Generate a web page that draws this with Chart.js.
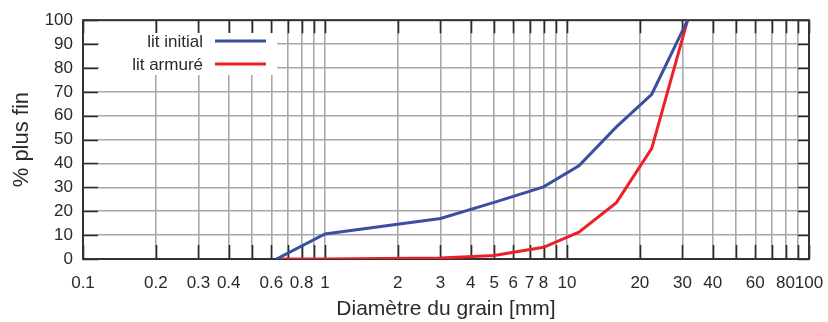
<!DOCTYPE html>
<html>
<head>
<meta charset="utf-8">
<script src="https://cdn.jsdelivr.net/npm/chart.js@4"></script>
<style>
  html, body { margin: 0; padding: 0; background: #fff; }
  #wrap { width: 828px; height: 322px; }
</style>
</head>
<body>
<div id="wrap"><canvas id="chart" width="828" height="322"></canvas></div>
<script>
// grain size curves (mm, % passing)
const sizesInitial = [0.63, 1, 3, 5, 8, 11.2, 16, 22.4, 31.5];
const passInitial  = [0, 10.5, 17, 23.7, 30.2, 39, 55.3, 69, 100];

const sizesArmored = [0.63, 1, 3, 5, 8, 11.2, 16, 22.4, 31.5];
const passArmored  = [0, 0, 0.4, 1.5, 4.9, 11.2, 23.6, 46.3, 100];

// log grid lines, and the ones that get a label
const xGrid = [0.1, 0.2, 0.3, 0.4, 0.5, 0.6, 0.7, 0.8, 0.9,
               1, 2, 3, 4, 5, 6, 7, 8, 9,
               10, 20, 30, 40, 50, 60, 70, 80, 90, 100];
const xLabels = [0.1, 0.2, 0.3, 0.4, 0.6, 0.8, 1, 2, 3, 4, 5, 6, 7, 8, 10, 20, 30, 40, 60, 80, 100];

const legendNames = ['lit initial', 'lit armuré'];
const colors = ['#3a4fa0', '#ee1f26'];

const FONT = "'Liberation Sans', Arial, sans-serif";
const TEXT = '#2a2a2a';

function toPoints(xs, ys) {
    return xs.map((x, i) => ({ x: x, y: ys[i] }));
}

// frame + inward tick marks (gnuplot look)
const framePlugin = {
    id: 'frame',
    beforeDatasetsDraw(chart) {
        const { ctx, chartArea: a, scales } = chart;
        ctx.save();
        ctx.strokeStyle = '#2a2a2a';
        ctx.lineWidth = 1.6;
        ctx.beginPath();
        xGrid.forEach(v => {
            const px = Math.round(scales.x.getPixelForValue(v)) + 0.5;
            ctx.moveTo(px, a.bottom); ctx.lineTo(px, a.bottom - 14);
            ctx.moveTo(px, a.top); ctx.lineTo(px, a.top + 13);
        });
        for (let v = 0; v <= 100; v += 10) {
            const py = Math.round(scales.y.getPixelForValue(v)) + 0.5;
            ctx.moveTo(a.left, py); ctx.lineTo(a.left + 15, py);
            ctx.moveTo(a.right, py); ctx.lineTo(a.right - 11, py);
        }
        ctx.stroke();
        ctx.strokeStyle = '#333';
        ctx.lineWidth = 2;
        ctx.strokeRect(a.left, a.top, a.right - a.left, a.bottom - a.top);
        ctx.restore();
    }
};

// legend: text on the left, line sample on the right, white box behind
const legendPlugin = {
    id: 'gpLegend',
    afterDraw(chart) {
        const { ctx } = chart;
        ctx.save();
        ctx.fillStyle = '#fff';
        ctx.fillRect(99, 33, 178, 42);
        ctx.font = '17px ' + FONT;
        ctx.textAlign = 'right';
        ctx.textBaseline = 'middle';
        legendNames.forEach((name, i) => {
            const y = 41 + i * 23;
            ctx.fillStyle = TEXT;
            ctx.fillText(name, 203, y + 1);
            ctx.strokeStyle = colors[i];
            ctx.lineWidth = 3;
            ctx.beginPath();
            ctx.moveTo(215, y);
            ctx.lineTo(266, y);
            ctx.stroke();
        });
        ctx.restore();
    }
};

new Chart(document.getElementById('chart').getContext('2d'), {
    type: 'line',
    data: {
        datasets: [
            {
                label: legendNames[0],
                data: toPoints(sizesInitial, passInitial),
                borderColor: colors[0],
                borderWidth: 3,
                pointRadius: 0,
                tension: 0,
                fill: false,
            },
            {
                label: legendNames[1],
                data: toPoints(sizesArmored, passArmored),
                borderColor: colors[1],
                borderWidth: 3,
                pointRadius: 0,
                tension: 0,
                fill: false,
            },
        ],
    },
    options: {
        responsive: false,
        animation: false,
        layout: { padding: { top: 20, right: 19, left: 0, bottom: 0 } },
        plugins: {
            legend: { display: false },
            tooltip: { enabled: false },
        },
        scales: {
            x: {
                type: 'logarithmic',
                min: 0.1,
                max: 100,
                afterBuildTicks: (scale) => {
                    scale.ticks = xGrid.map(v => ({ value: v }));
                },
                afterFit: (scale) => {
                    scale.height = 63;
                    scale.paddingLeft = 0;
                    scale.paddingRight = 0;
                },
                grid: { color: '#a8a8a8', lineWidth: 1.6, drawTicks: false },
                border: { display: false },
                ticks: {
                    autoSkip: false,
                    maxRotation: 0,
                    padding: 14,
                    color: TEXT,
                    font: { family: FONT, size: 17 },
                    callback: (value) => xLabels.includes(value) ? String(value) : '',
                },
                title: {
                    display: true,
                    text: 'Diamètre du grain [mm]',
                    color: TEXT,
                    font: { family: FONT, size: 21 },
                    padding: { top: 0, bottom: 0 },
                },
            },
            y: {
                min: 0,
                max: 100,
                afterFit: (scale) => { scale.width = 83; },
                grid: { color: '#a8a8a8', lineWidth: 1.6, drawTicks: false },
                border: { display: false },
                ticks: {
                    stepSize: 10,
                    padding: 10,
                    color: TEXT,
                    font: { family: FONT, size: 17 },
                },
                title: {
                    display: true,
                    text: '% plus fin',
                    color: TEXT,
                    font: { family: FONT, size: 22 },
                    padding: { top: 9, bottom: 0 },
                },
            },
        },
    },
    plugins: [framePlugin, legendPlugin],
});
</script>
</body>
</html>
